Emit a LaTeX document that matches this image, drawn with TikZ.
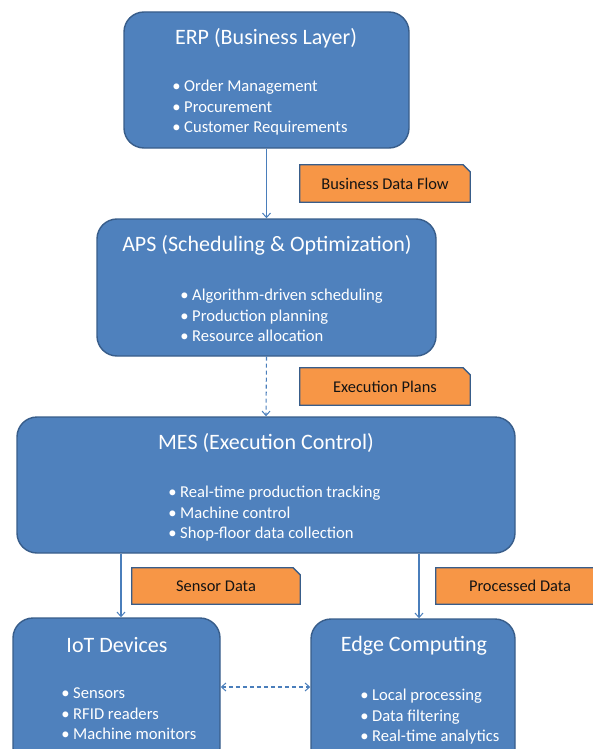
\documentclass[tikz,border=0pt]{standalone}
\usepackage{fontspec}
\setmainfont{Carlito}
\usetikzlibrary{arrows.meta}
\pgfdeclarelayer{background}
\pgfsetlayers{background,main}
\definecolor{boxfill}{HTML}{4F81BD}
\definecolor{boxline}{HTML}{385D8A}
\definecolor{arrline}{HTML}{4A7EBB}
\definecolor{lblfill}{HTML}{F79646}
\definecolor{lbltext}{HTML}{141414}
\tikzset{
  layerbox/.style={draw=boxline, fill=boxfill, line width=1.4pt, rounded corners=20pt, inner sep=0pt},
  ttl/.style={text=white, inner sep=0pt, font=\fontsize{22}{26}\selectfont},
  blist/.style={text=white, inner sep=0pt, align=left, anchor=west, font=\fontsize{16.6}{20.4}\selectfont},
  lbl/.style={rectangle, text=lbltext, inner sep=0pt, font=\fontsize{16.4}{19}\selectfont},
  lblshape/.style={draw=boxline, fill=lblfill, line width=1.3pt, line join=miter},
  conn/.style={draw=arrline, line width=1.1pt, -{Straight Barb[length=4.5pt,width=8pt,line width=1pt]}},
  dconn/.style={conn, dash pattern=on 4pt off 3pt}
}
\newcommand{\bul}{\strut\llap{•\hspace{3.5pt}}}
\newcommand{\snipbox}[1]{\path[lblshape] (#1.north west) -- ([xshift=-7pt]#1.north east) -- ([yshift=-7pt]#1.north east) -- (#1.south east) -- (#1.south west) -- cycle;}
\begin{document}
\begin{tikzpicture}[x=1pt,y=-1pt]
\useasboundingbox (0,0) rectangle (593,749);
\clip (0,0) rectangle (593,749);
% boxes
\node[layerbox, minimum width=285pt, minimum height=136pt] (erp) at (266.5,80) {};
\node[layerbox, minimum width=339pt, minimum height=137pt] (aps) at (266.5,287.5) {};
\node[layerbox, minimum width=498pt, minimum height=136pt] (mes) at (266,485) {};
\node[layerbox, minimum width=207pt, minimum height=150pt] (iot) at (116.5,693) {};
\node[layerbox, minimum width=204pt, minimum height=150pt] (edge) at (413,694) {};
% titles
\node[ttl] (erpt) at (266,38) {ERP (Business Layer)};
\node[ttl] (apst) at (267,245) {APS (Scheduling \& Optimization)};
\node[ttl] (mest) at (266,443) {MES (Execution Control)};
\node[ttl] (iott) at (117,645) {IoT Devices};
\node[ttl] (edget) at (414,646) {Edge Computing};
% bullet lists
\node[blist] (erpl) at (184,108) {\bul Order Management\\\bul Procurement\\\bul Customer Requirements};
\node[blist] (apsl) at (192,317) {\bul Algorithm-driven scheduling\\\bul Production planning\\\bul Resource allocation};
\node[blist] (mesl) at (180,514) {\bul Real-time production tracking\\\bul Machine control\\\bul Shop-floor data collection};
\node[blist] (iotl) at (73,715) {\bul Sensors\\\bul RFID readers\\\bul Machine monitors};
\node[blist] (edgel) at (372,717) {\bul Local processing\\\bul Data filtering\\\bul Real-time analytics};
% labels
\node[lbl, minimum width=170pt, minimum height=37pt] (l1) at (385,183.5) {Business Data Flow};
\node[lbl, minimum width=170pt, minimum height=37pt] (l2) at (385,386.5) {Execution Plans};
\node[lbl, minimum width=168pt, minimum height=36pt] (l3) at (216,586) {Sensor Data};
\node[lbl, minimum width=168pt, minimum height=36pt] (l4) at (520,586) {Processed Data};
\begin{pgfonlayer}{background}
\snipbox{l1}
\snipbox{l2}
\snipbox{l3}
\snipbox{l4}
\end{pgfonlayer}
% connector helpers
\coordinate (sx) at (121,0);
\coordinate (ex) at (419,0);
\coordinate (hy) at (0,687);
% connectors
\draw[conn] (erp.south) -- (aps.north);
\draw[dconn] (aps.south) -- (mes.north);
\draw[conn] (mes.south -| sx) -- (iot.north -| sx);
\draw[conn] (mes.south -| ex) -- (edge.north -| ex);
\draw[dconn, {Straight Barb[length=4.5pt,width=8pt,line width=1pt]}-{Straight Barb[length=4.5pt,width=8pt,line width=1pt]}] (iot.east |- hy) -- (edge.west |- hy);
\end{tikzpicture}
\end{document}
